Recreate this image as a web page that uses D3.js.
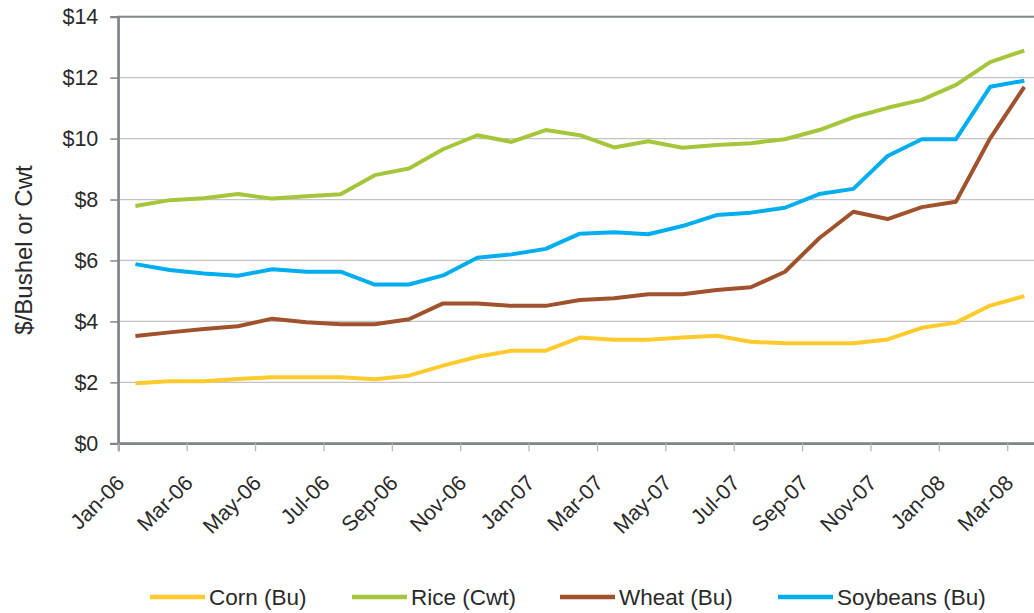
<!DOCTYPE html>
<html>
<head>
<meta charset="utf-8">
<script src="https://cdn.jsdelivr.net/npm/d3@7"></script>
<style>
  html, body { margin: 0; padding: 0; background: #fff; }
  svg { display: block; font-family: "Liberation Sans", "DejaVu Sans", sans-serif; }
</style>
</head>
<body>
<svg id="chart" width="1034" height="613"></svg>
<script>
const months = ["Jan-06","Feb-06","Mar-06","Apr-06","May-06","Jun-06","Jul-06","Aug-06","Sep-06","Oct-06","Nov-06","Dec-06",
  "Jan-07","Feb-07","Mar-07","Apr-07","May-07","Jun-07","Jul-07","Aug-07","Sep-07","Oct-07","Nov-07","Dec-07",
  "Jan-08","Feb-08","Mar-08"];
const tickLabels = ["Jan-06","Mar-06","May-06","Jul-06","Sep-06","Nov-06","Jan-07","Mar-07","May-07","Jul-07","Sep-07","Nov-07","Jan-08","Mar-08"];
const yTicks = [0, 2, 4, 6, 8, 10, 12, 14];

const corn = [1.97,2.04,2.04,2.11,2.17,2.17,2.17,2.10,2.22,2.55,2.84,3.04,3.04,3.47,3.40,3.40,3.47,3.53,3.33,3.28,3.28,3.28,3.41,3.79,3.96,4.52,4.83];
const rice = [7.79,7.98,8.04,8.18,8.03,8.11,8.17,8.80,9.02,9.65,10.11,9.89,10.28,10.11,9.71,9.91,9.70,9.79,9.85,9.98,10.28,10.70,11.01,11.27,11.76,12.51,12.89];
const wheat = [3.52,3.64,3.75,3.84,4.09,3.97,3.91,3.91,4.07,4.59,4.59,4.51,4.51,4.70,4.76,4.89,4.89,5.03,5.12,5.63,6.73,7.60,7.36,7.75,7.93,10.01,11.70];
const soybeans = [5.88,5.69,5.57,5.50,5.71,5.63,5.63,5.21,5.21,5.51,6.09,6.20,6.38,6.88,6.93,6.86,7.13,7.49,7.57,7.73,8.18,8.35,9.43,9.98,9.98,11.70,11.90];

const seriesNames = ["Corn (Bu)", "Rice (Cwt)", "Wheat (Bu)", "Soybeans (Bu)"];
const seriesColors = ["#FFCB2C", "#A5C63B", "#A0522D", "#00AEEF"];
const seriesData = [corn, rice, wheat, soybeans];

const svg = d3.select("#chart");
const plotLeft = 118.3, plotTop = 16.7, plotBottom = 443.3, monthW = 34.19;
const x = d3.scaleLinear().domain([0, months.length]).range([plotLeft, plotLeft + months.length * monthW]);
const y = d3.scaleLinear().domain([0, 14]).range([plotBottom, plotTop]);

// gridlines
svg.append("g").selectAll("line").data(yTicks.filter(d => d > 0 && d < 14)).join("line")
  .attr("x1", plotLeft).attr("x2", x(months.length))
  .attr("y1", d => y(d)).attr("y2", d => y(d))
  .attr("stroke", "#c3c3c3").attr("stroke-width", 1.3);

// plot border (top/right)
svg.append("rect").attr("x", plotLeft).attr("y", plotTop)
  .attr("width", x(months.length) - plotLeft).attr("height", plotBottom - plotTop)
  .attr("fill", "none").attr("stroke", "#80858b").attr("stroke-width", 2);

// y axis
const yAxis = d3.axisLeft(y).tickValues(yTicks).tickSize(8).tickPadding(12).tickFormat(d => "$" + d);
const gy = svg.append("g").attr("transform", `translate(${plotLeft},0)`).call(yAxis);
gy.select(".domain").attr("stroke", "#80858b").attr("stroke-width", 2.2);
gy.selectAll(".tick line").attr("stroke", "#80858b").attr("stroke-width", 1.5);
gy.selectAll(".tick text").attr("font-size", 21.5).attr("fill", "#2a2a2a")
  .attr("font-family", "Liberation Sans, sans-serif");

// x axis
const tickIdx = tickLabels.map(t => months.indexOf(t));
const xAxis = d3.axisBottom(x).tickValues(tickIdx).tickSize(8).tickFormat((d) => months[d]);
const gx = svg.append("g").attr("transform", `translate(0,${plotBottom})`).call(xAxis);
gx.select(".domain").attr("stroke", "#80858b").attr("stroke-width", 2.2);
gx.selectAll(".tick line").attr("stroke", "#b8b8b8").attr("stroke-width", 1.3);
gx.selectAll(".tick text")
  .attr("font-size", 21.5).attr("fill", "#2a2a2a")
  .attr("text-anchor", "end")
  .attr("dy", null).attr("y", null)
  .attr("transform", "translate(7,41) rotate(-45)");

// y label
svg.append("text").attr("transform", "translate(32,250) rotate(-90)")
  .attr("text-anchor", "middle").attr("font-size", 24).attr("fill", "#2a2a2a")
  .text("$/Bushel or Cwt");

// lines
const line = d3.line().x((d, i) => x(i + 0.5)).y(d => y(d));
svg.append("g").selectAll("path").data(seriesData).join("path")
  .attr("d", d => line(d))
  .attr("fill", "none")
  .attr("stroke", (d, i) => seriesColors[i])
  .attr("stroke-width", 4)
  .attr("stroke-linejoin", "round");

// legend
const legendX = [150, 352, 560, 778];
const lg = svg.append("g").selectAll("g").data(seriesNames).join("g")
  .attr("transform", (d, i) => `translate(${legendX[i]},597)`);
lg.append("line").attr("x1", 0).attr("x2", 55).attr("y1", 0).attr("y2", 0)
  .attr("stroke", (d, i) => seriesColors[i]).attr("stroke-width", 4.5);
lg.append("text").attr("x", 59).attr("y", 0).attr("dy", "0.35em")
  .attr("font-size", 22.5).attr("fill", "#2a2a2a").text(d => d);
</script>
</body>
</html>
